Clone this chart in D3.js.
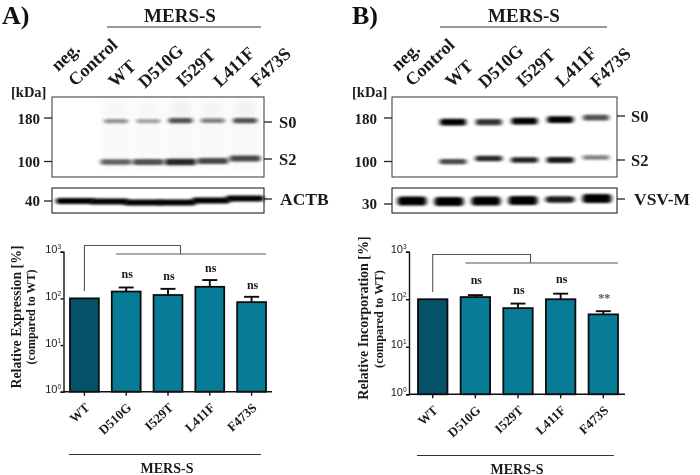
<!DOCTYPE html>
<html><head><meta charset="utf-8">
<script src="https://cdn.jsdelivr.net/npm/d3@7/dist/d3.min.js"></script>
<style>html,body{margin:0;padding:0;background:#fff}svg{display:block}
text{font-family:"Liberation Serif",serif;font-weight:bold;fill:#1a1a1a}</style>
</head><body><svg id="c" width="700" height="475"></svg>
<script>
const lanes = ["WT","D510G","I529T","L411F","F473S"];
const loadLanes = ["neg","WT","D510G","I529T","L411F","F473S"];
const expression = [100,140,118,177,83];
const expressionErr = [100,171,160,247,108];
const expressionSig = ["","ns","ns","ns","ns"];
const incorporation = [100,111,65,100,48];
const incorporationErr = [100,122,81,131,56];
const incorporationSig = ["","ns","ns","ns","**"];
const blotA_S0 = [0.42,0.35,0.68,0.48,0.68];
const blotA_S2 = [0.62,0.68,0.85,0.72,0.72];
const blotA_ACTB = [1,1,1,1,1,1];
const blotB_S0 = [1,0.8,1,1,0.68];
const blotB_S2 = [0.72,0.85,0.88,0.92,0.5];
const blotB_VSV = [1,1,1,1,0.9,1];
const decades = [1,10,100,1000];
const exps = ["0","1","2","3"];

const svg = d3.select("#c");
const defs = svg.append("defs");
defs.append("filter").attr("id","soft").attr("x","-20%").attr("y","-150%").attr("width","140%").attr("height","400%")
  .append("feGaussianBlur").attr("stdDeviation","2 1.2");
defs.append("filter").attr("id","haze").attr("x","-40%").attr("y","-100%").attr("width","180%").attr("height","300%")
  .append("feGaussianBlur").attr("stdDeviation","4 6");
const root = svg.append("g").style("filter","blur(0.35px)");

function txt(g,x,y,s,size,opts={}){
  const t=g.append("text").attr("x",x).attr("y",y).attr("font-size",size).text(s);
  if(opts.anchor)t.attr("text-anchor",opts.anchor);
  if(opts.rot!==undefined)t.attr("transform",`rotate(${opts.rot} ${x} ${y})`);
  if(opts.fill)t.style("fill",opts.fill);
  return t;
}
function line(g,x1,y1,x2,y2,w=1.3,c="#222"){
  g.append("line").attr("x1",x1).attr("y1",y1).attr("x2",x2).attr("y2",y2).attr("stroke",c).attr("stroke-width",w);
}

function blot(cfg){
  const g=root.append("g");
  txt(g,cfg.letterX,23.5,cfg.letter,26).style("fill","#111");
  txt(g,cfg.titleX,21.7,"MERS-S",19,{anchor:"middle"});
  line(g,cfg.titleLine[0],27,cfg.titleLine[1],27,1.1,"#333");
  cfg.heads.forEach(h=>txt(g,h[1],h[2],h[0],18,{rot:-43}));
  txt(g,cfg.kda[0],cfg.kda[1],"[kDa]",14.5);

  const x=d3.scalePoint().domain(lanes).range(cfg.laneRange);
  const kd=d3.scaleLog().domain([180,100]).range([118,161.5]);
  const box=cfg.box;

  const clip="clip"+cfg.letter[0];
  defs.append("clipPath").attr("id",clip).append("rect").attr("x",box[0]).attr("y",97).attr("width",box[1]-box[0]).attr("height",80);
  const b=g.append("g").attr("clip-path",`url(#${clip})`);
  if(cfg.haze){
    b.selectAll(".hz").data(lanes).join("rect")
      .attr("x",d=>x(d)-14).attr("width",28).attr("y",102).attr("height",68)
      .attr("fill","#000").attr("opacity",(d,i)=>0.015+0.02*cfg.s0[i]).attr("filter","url(#haze)");
    b.selectAll(".hz2").data(lanes).join("rect")
      .attr("x",d=>x(d)-10).attr("width",20).attr("y",102).attr("height",10)
      .attr("fill","#000").attr("opacity",(d,i)=>0.07*cfg.s0[i]).attr("filter","url(#haze)");
  }
  const band=(vals,y,hw,hh,off)=>b.append("g").selectAll("rect").data(lanes).join("rect")
      .attr("x",d=>x(d)-hw).attr("width",hw*2)
      .attr("y",(d,i)=>kd(y)+off[i]-hh*(0.55+0.45*vals[i])).attr("height",(d,i)=>2*hh*(0.55+0.45*vals[i])).attr("rx",2)
      .attr("fill","#000").attr("opacity",(d,i)=>vals[i]).attr("filter","url(#soft)");
  band(cfg.s0,172.5,cfg.hw,cfg.s0h,cfg.s0off);
  band(cfg.s2,100,cfg.hw2,cfg.s2h,cfg.s2off);
  g.append("rect").attr("x",box[0]).attr("y",97).attr("width",box[1]-box[0]).attr("height",80)
    .attr("fill","none").attr("stroke","#444").attr("stroke-width",1.1);

  const lx=d3.scalePoint().domain(loadLanes).range(cfg.lowerRange);
  const l=g.append("g");
  l.selectAll("rect").data(loadLanes).join("rect")
    .attr("x",d=>lx(d)-cfg.lowerW).attr("width",cfg.lowerW*2)
    .attr("y",(d,i)=>cfg.lowerOff[i]-cfg.lowerH*(i===4&&cfg.letter==="B)"?0.7:1)).attr("height",(d,i)=>2*cfg.lowerH*(i===4&&cfg.letter==="B)"?0.7:1)).attr("rx",cfg.lowerH*0.8)
    .attr("fill","#000").attr("filter","url(#soft)").attr("opacity",(d,i)=>cfg.lower[i]);
  g.append("rect").attr("x",box[0]).attr("y",188).attr("width",box[1]-box[0]).attr("height",25)
    .attr("fill","none").attr("stroke","#222").attr("stroke-width",1.1);

  line(g,box[0]-8,kd(180),box[0],kd(180));
  line(g,box[0]-8,kd(100),box[0],kd(100));
  line(g,box[0]-8,cfg.lowTickY,box[0],cfg.lowTickY);
  txt(g,box[0]-cfg.tickGap,kd(180)+5.5,"180",15,{anchor:"end"});
  txt(g,box[0]-cfg.tickGap,kd(100)+5.5,"100",15,{anchor:"end"});
  txt(g,box[0]-cfg.tickGap,cfg.lowTickY+5,cfg.lowLabel,15,{anchor:"end"});
  line(g,box[1],cfg.rs0,box[1]+8,cfg.rs0);
  line(g,box[1],cfg.rs2,box[1]+8,cfg.rs2);
  line(g,box[1],cfg.rlow,box[1]+8,cfg.rlow);
  txt(g,box[1]+cfg.nameDx,cfg.rs0+6,"S0",16.5);
  txt(g,box[1]+cfg.nameDx,cfg.rs2+6,"S2",16.5);
  txt(g,box[1]+cfg.lowNameDx,cfg.rlow+5.5,cfg.lowName,17.5);
}

function chart(cfg){
  const g=root.append("g");
  const y=d3.scaleLog().domain([1,1000]).range([cfg.bottom,cfg.top]);
  const x=d3.scaleBand().domain(lanes).range([cfg.left,cfg.right]).paddingInner(0.31).paddingOuter(0.0);
  const bw=x.bandwidth();
  g.selectAll(".bar").data(lanes).join("rect")
    .attr("x",d=>x(d)).attr("width",bw)
    .attr("y",(d,i)=>y(cfg.vals[i])).attr("height",(d,i)=>cfg.bottom-y(cfg.vals[i]))
    .attr("fill",(d,i)=>i===0?"#05526a":"#087b96").attr("stroke","#0c0c0c").attr("stroke-width",1.8);
  lanes.forEach((d,i)=>{
    if(i===0)return;
    const cx=x(d)+bw/2;
    line(g,cx,y(cfg.vals[i]),cx,y(cfg.errs[i]),1.9,"#0c0c0c");
    line(g,cx-7.5,y(cfg.errs[i]),cx+7.5,y(cfg.errs[i]),1.9,"#0c0c0c");
    const sig=cfg.sig[i];
    const t=txt(g,cx+1,y(cfg.errs[i])-cfg.sigGap[i],sig,12,{anchor:"middle"});
    if(sig==="**")t.style("fill","#555");
  });
  const ya=d3.axisLeft(y).tickValues(decades).tickSize(3).tickFormat("");
  g.append("g").attr("transform",`translate(${cfg.axis},0)`).call(ya)
    .call(s=>s.selectAll("path,line").attr("stroke","#111").attr("stroke-width",1.4));
  decades.forEach((d,i)=>{
    const t=g.append("text").attr("x",cfg.axis-2.5).attr("y",y(d)+1.5).attr("text-anchor","end")
      .style("font-family","'Liberation Sans',sans-serif").style("font-weight","normal").attr("font-size",11);
    t.append("tspan").text("10");
    t.append("tspan").attr("font-size",6.5).attr("dy",-4).text(exps[i]);
  });
  const xa=d3.axisBottom(x).tickSize(4).tickFormat("").tickSizeOuter(0);
  const ag=g.append("g").attr("transform",`translate(0,${cfg.bottom})`).call(xa)
    .call(s=>s.selectAll("line").attr("stroke","#111").attr("stroke-width",1.4));
  ag.select("path").attr("d",`M${cfg.axis},0H${cfg.axisEnd}`).attr("stroke","#111").attr("stroke-width",1.5);
  lanes.forEach(d=>{
    const cx=x(d)+bw/2+cfg.labDx;
    txt(g,cx,cfg.bottom+17,d,13,{anchor:"end",rot:-43});
  });
  txt(g,cfg.titleX,cfg.titleMid,cfg.title,cfg.titleSize,{anchor:"middle",rot:-90});
  txt(g,cfg.titleX+cfg.subDx,cfg.titleMid2,"(compared to WT)",cfg.subSize,{anchor:"middle",rot:-90});
  const wt=x("WT")+bw/2;
  const brk=g.append("g");
  const yb=cfg.brkTop, ym=cfg.brkMid;
  brk.append("path").attr("fill","none").attr("stroke","#555").attr("stroke-width",1.1)
    .attr("d",d3.line()([[wt,cfg.brkFoot],[wt,yb],[cfg.brkX,yb],[cfg.brkX,ym]]));
  line(brk,x("D510G")+bw/2-cfg.brkIn,ym,x("F473S")+bw,ym,1.1,"#555");
  line(g,cfg.underLine[0],cfg.underY,cfg.underLine[1],cfg.underY,1.1,"#333");
  txt(g,cfg.underX,cfg.underY+18,"MERS-S",14,{anchor:"middle"});
}

blot({letter:"A)",letterX:2,titleX:180,titleLine:[107,261],tickGap:12,
  heads:[["neg.",58,72],["Control",75,87],["WT",115,88],["D510G",145,89],["I529T",183,88],["L411F",220,88],["F473S",257,88]],
  kda:[11,97],laneRange:[116,245],box:[52,264],hw:12,hw2:15.5,s0:blotA_S0,s2:blotA_S2,s0h:3,s2h:3.4,
  s0off:[0,0,-0.5,-0.5,-0.5],s2off:[0.5,0.5,0.5,-0.5,-3],haze:true,
  lowerRange:[75,245],lower:blotA_ACTB,lowerW:19,lowerH:3,lowerOff:[201,201.5,202.5,202.5,200.5,198.5],
  lowTickY:201,lowLabel:"40",rs0:122,rs2:159,rlow:199,nameDx:15,lowName:"ACTB",lowNameDx:16});
blot({letter:"B)",letterX:352,titleX:524,titleLine:[440,607],tickGap:15,
  heads:[["neg.",398,72],["Control",412,87],["WT",452,88],["D510G",485,89],["I529T",523,88],["L411F",562,88],["F473S",597,88]],
  kda:[352,97],laneRange:[453,596],box:[392,617],hw:13,hw2:13.5,s0:blotB_S0,s2:blotB_S2,s0h:3.4,s2h:3,
  s0off:[1,1,0,-1.5,-3.5],s2off:[0.2,-3,-1.5,-1.5,-4],haze:false,
  lowerRange:[412,597],lower:blotB_VSV,lowerW:14.5,lowerH:4.6,lowerOff:[201,201.5,201,200.5,199.5,198.5],
  lowTickY:204,lowLabel:"30",rs0:116,rs2:160,rlow:199,nameDx:14,lowName:"VSV-M",lowNameDx:17});

chart({vals:expression,errs:expressionErr,sig:expressionSig,sigGap:[0,9,9,8,8],
  top:251.7,bottom:391.7,left:70,right:266,axis:63.5,axisEnd:272,labDx:6,
  title:"Relative Expression [%]",titleSize:13.8,subSize:12,titleX:20.5,subDx:14,titleMid:317,titleMid2:317,
  brkTop:245.5,brkMid:254,brkX:180.5,brkFoot:291,brkIn:10,underLine:[69,261],underY:454.5,underX:167});
chart({vals:incorporation,errs:incorporationErr,sig:incorporationSig,sigGap:[0,11,10,11,9],
  top:251.7,bottom:394.3,left:418,right:618,axis:409,axisEnd:625,labDx:6,
  title:"Relative Incorporation [%]",titleSize:14,subSize:12.4,titleX:368,subDx:15,titleMid:318,titleMid2:319,
  brkTop:254.5,brkMid:263,brkX:530.5,brkFoot:292,brkIn:10,underLine:[417,614],underY:455.5,underX:517});
</script></body></html>
